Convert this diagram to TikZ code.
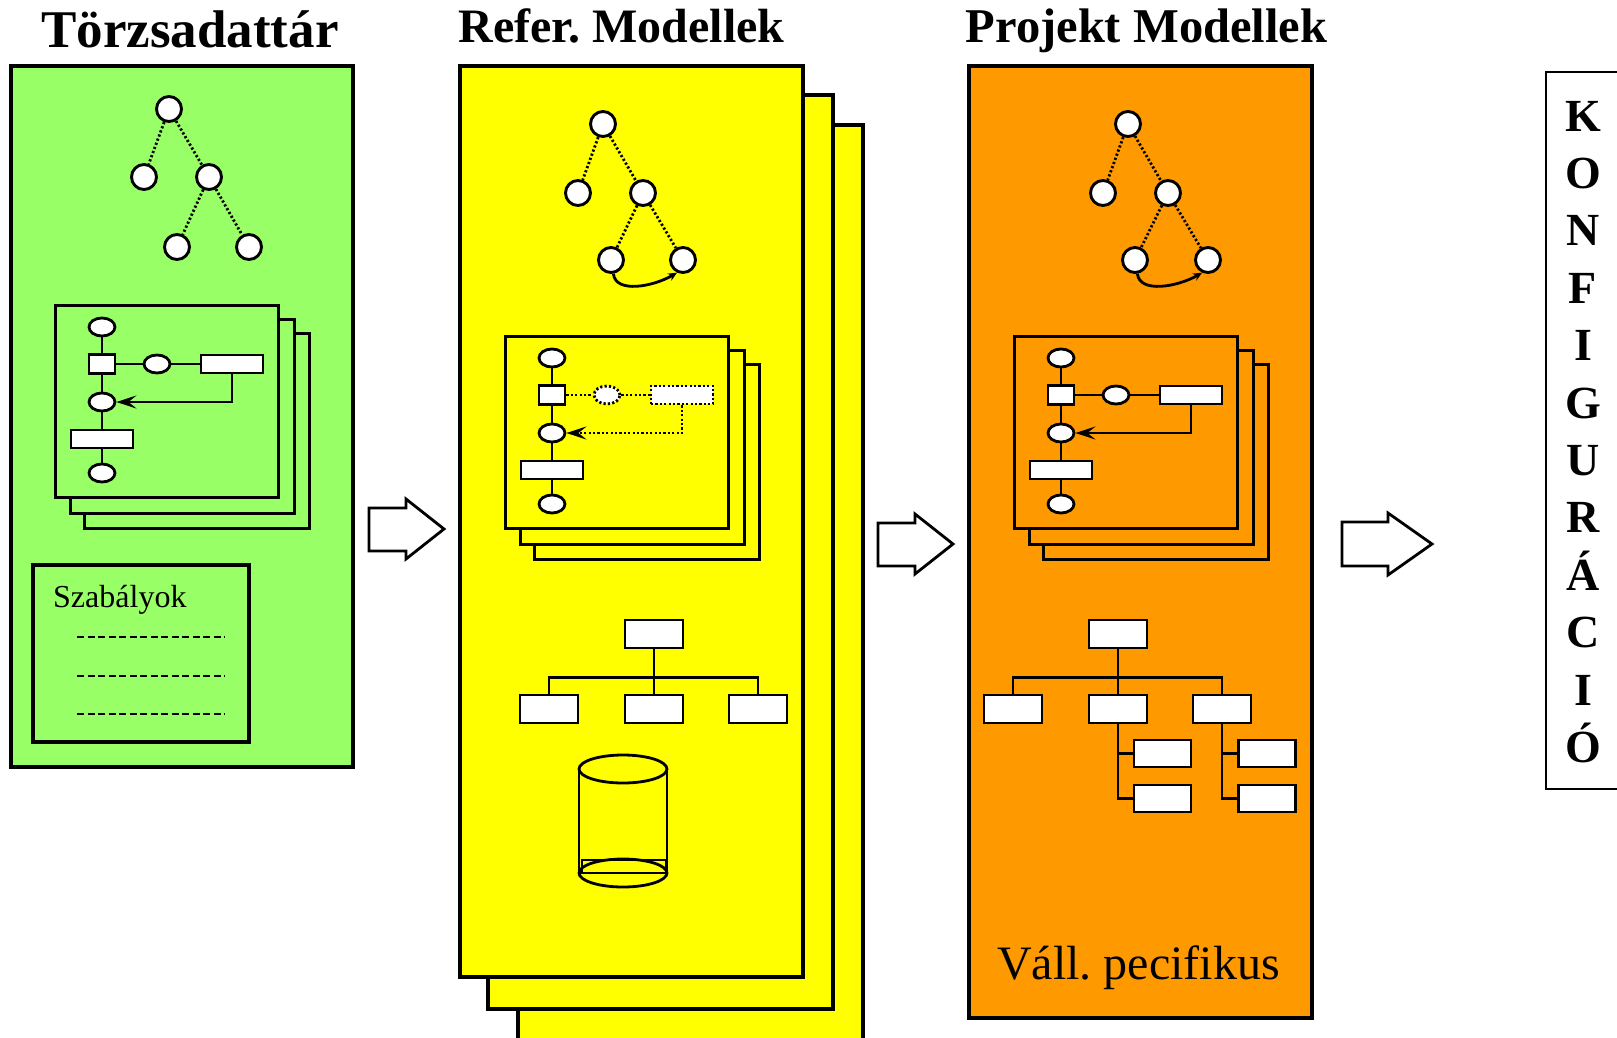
\documentclass[tikz,border=0pt]{standalone}
\usepackage{fontspec}
\setmainfont{Liberation Serif}
\frenchspacing
\usetikzlibrary{arrows.meta,shapes.geometric,calc}
\definecolor{gbg}{HTML}{99FF66}
\definecolor{ybg}{HTML}{FFFF00}
\definecolor{obg}{HTML}{FF9900}
\tikzset{
 bigbox/.style={draw=black, line width=3.2pt},
 stackbox/.style={draw=black, line width=3pt},
 tn/.style={circle, draw, fill=white, line width=2.9pt, minimum size=25pt, inner sep=0pt},
 dotline/.style={dash pattern=on 2.2pt off 2.2pt},
 fel/.style={ellipse, draw, fill=white, line width=2.8pt, minimum width=26pt, minimum height=18pt, inner sep=0pt},
 fsq/.style={rectangle, draw, fill=white, line width=2.8pt, minimum width=26pt, minimum height=19pt, inner sep=0pt},
 frect/.style={rectangle, draw, fill=white, line width=2.8pt, minimum width=62pt, minimum height=18pt, inner sep=0pt},
 orgbox/.style={rectangle, draw, fill=white, line width=2.8pt, minimum width=58pt, minimum height=28pt, inner sep=0pt},
 subbox/.style={rectangle, draw, fill=white, line width=2.8pt, minimum width=57pt, minimum height=27pt, inner sep=0pt},
 conn/.style={line width=2.8pt},
 barb/.style={-{Stealth[length=20pt,width=13pt,inset=8pt]}},
 smallarr/.style={-{Stealth[length=9pt,width=8pt]}},
 blockarrow/.style={draw, fill=white, line width=2.8pt, line join=miter},
 title/.style={font=\bfseries\fontsize{48}{56}\selectfont, anchor=base, inner sep=0pt},
 letter/.style={font=\bfseries\fontsize{46}{52}\selectfont, anchor=base, inner sep=0pt},
 dashrule/.style={line width=1.8pt, dash pattern=on 7pt off 3.5pt},
}
\newcommand\FlowStack[4]{%
 \begin{scope}[shift={#2}]
  \draw[stackbox, fill=#3] (29,28) rectangle (254,223);
  \draw[stackbox, fill=#3] (15,14) rectangle (239,208);
  \draw[stackbox, fill=#3] (0,0) rectangle (223,192);
  \node[fel] (#1e1) at (47,22) {};
  \node[fsq] (#1sq) at (47,59) {};
  \node[fel, #4] (#1e2) at (102,59) {};
  \node[frect, #4] (#1r1) at (177,59) {};
  \node[fel] (#1e3) at (47,97) {};
  \node[frect] (#1r2) at (47,134) {};
  \node[fel] (#1e4) at (47,168) {};
  \draw[conn] (#1e1) -- (#1sq);
  \draw[conn] (#1sq) -- (#1e3);
  \draw[conn] (#1e3) -- (#1r2);
  \draw[conn] (#1r2) -- (#1e4);
  \draw[conn, #4] (#1sq) -- (#1e2);
  \draw[conn, #4] (#1e2) -- (#1r1);
  \draw[conn, #4, barb] (#1r1.south) |- (#1e3);
 \end{scope}
}
\begin{document}
\begin{tikzpicture}[x=1pt,y=-1pt]
\clip (0,0) rectangle (1617,1037);
\fill[white] (0,0) rectangle (1617,1037);

% ---------- Green column ----------
\node[title, font=\bfseries\fontsize{53}{60}\selectfont] (t1) at (190,47) {Törzsadattár};
\draw[bigbox, fill=gbg] (11,66) rectangle (353,767);
\node[tn] (ga) at (169,109) {};
\node[tn] (gb) at (144,177) {};
\node[tn] (gc) at (209,177) {};
\node[tn] (gd) at (177,247) {};
\node[tn] (ge) at (249,247) {};
\draw[conn, dotline] (ga) -- (gb);
\draw[conn, dotline] (ga) -- (gc);
\draw[conn, dotline] (gc) -- (gd);
\draw[conn, dotline] (gc) -- (ge);
\FlowStack{g}{(55,305)}{gbg}{}
\draw[bigbox, fill=gbg] (33,565) rectangle (249,742);
\node[anchor=base west, inner sep=0pt, font=\fontsize{32}{36}\selectfont] (szab) at (53,607) {Szabályok};
\draw[dashrule] (77,637) -- (225,637);
\draw[dashrule] (77,676) -- (225,676);
\draw[dashrule] (77,714) -- (225,714);

% ---------- Yellow column ----------
\node[title] (t2) at (621.5,42) {Refer. Modellek};
\draw[bigbox, fill=ybg] (518,125) rectangle (863,1060);
\draw[bigbox, fill=ybg] (488,95) rectangle (833,1009);
\draw[bigbox, fill=ybg] (460,66) rectangle (803,977);
\node[tn] (ya) at (603,124) {};
\node[tn] (yb) at (578,193) {};
\node[tn] (yc) at (643,193) {};
\node[tn] (yd) at (611,260) {};
\node[tn] (ye) at (683,260) {};
\draw[conn, dotline] (ya) -- (yb);
\draw[conn, dotline] (ya) -- (yc);
\draw[conn, dotline] (yc) -- (yd);
\draw[conn, dotline] (yc) -- (ye);
\draw[conn, smallarr] (yd.-80) .. controls +(2,20) and +(-24,14) .. (ye.-115);
\FlowStack{y}{(505,336)}{ybg}{dotline}
\node[orgbox] (yo) at (654,634) {};
\node[orgbox] (yo1) at (549,709) {};
\node[orgbox] (yo2) at (654,709) {};
\node[orgbox] (yo3) at (758,709) {};
\draw[conn] (yo) -- (yo2);
\draw[conn] (yo1.north) -- ++(0,-16) -| (yo3.north);
% cylinder
\draw[conn] (623,769) ellipse [x radius=44pt, y radius=14pt];
\draw[conn] (579,769) -- (579,873);
\draw[conn] (667,769) -- (667,873);
\draw[line width=1.6pt] (582,873) -- (582,860) -- (666,860) -- (666,873);
\draw[conn] (623,873) ellipse [x radius=44pt, y radius=14pt];
\draw[conn] (579,873) -- (667,873);

% ---------- Orange column ----------
\node[title, font=\bfseries\fontsize{48.5}{56}\selectfont] (t3) at (1146.5,42) {Projekt Modellek};
\draw[bigbox, fill=obg] (969,66) rectangle (1312,1018);
\node[tn] (oa) at (1128,124) {};
\node[tn] (ob) at (1103,193) {};
\node[tn] (oc) at (1168,193) {};
\node[tn] (od) at (1135,260) {};
\node[tn] (oe) at (1208,260) {};
\draw[conn, dotline] (oa) -- (ob);
\draw[conn, dotline] (oa) -- (oc);
\draw[conn, dotline] (oc) -- (od);
\draw[conn, dotline] (oc) -- (oe);
\draw[conn, smallarr] (od.-80) .. controls +(2,20) and +(-24,14) .. (oe.-115);
\FlowStack{o}{(1014,336)}{obg}{}
\node[orgbox] (oo) at (1118,634) {};
\node[orgbox] (oo1) at (1013,709) {};
\node[orgbox] (oo2) at (1118,709) {};
\node[orgbox] (oo3) at (1222,709) {};
\node[subbox] (os1) at (1162.5,753.5) {};
\node[subbox] (os2) at (1162.5,798.5) {};
\node[subbox] (os3) at (1267,753.5) {};
\node[subbox] (os4) at (1267,798.5) {};
\draw[conn] (oo) -- (oo2);
\draw[conn] (oo1.north) -- ++(0,-16) -| (oo3.north);
\draw[conn] (oo2.south) |- (os2);
\draw[conn] (os1.west) -- (os1.west -| oo2.south);
\draw[conn] (oo3.south) |- (os4);
\draw[conn] (os3.west) -- (os3.west -| oo3.south);
\node[anchor=base, inner sep=0pt, font=\fontsize{48}{56}\selectfont] (vall) at (1138.5,979) {Váll. pecifikus};

% ---------- block arrows ----------
\draw[blockarrow] (369,508) -- (406,508) -- (406,499) -- (444,529) -- (406,559) -- (406,551) -- (369,551) -- cycle;
\draw[blockarrow] (878,523) -- (915,523) -- (915,514) -- (953,544) -- (915,574) -- (915,566) -- (878,566) -- cycle;
\draw[blockarrow] (1342,522) -- (1388,522) -- (1388,513) -- (1432,544) -- (1388,575) -- (1388,566) -- (1342,566) -- cycle;

% ---------- KONFIGURACIO ----------
\draw[line width=2.2pt] (1640,72) -- (1546,72) -- (1546,789) -- (1640,789);
\foreach \L [count=\i from 0] in {K,O,N,F,I,G,U,R,Á,C,I,Ó}
  \node[letter] (kon\i) at (1583,{131+57.4*\i}) {\L};
\end{tikzpicture}
\end{document}
